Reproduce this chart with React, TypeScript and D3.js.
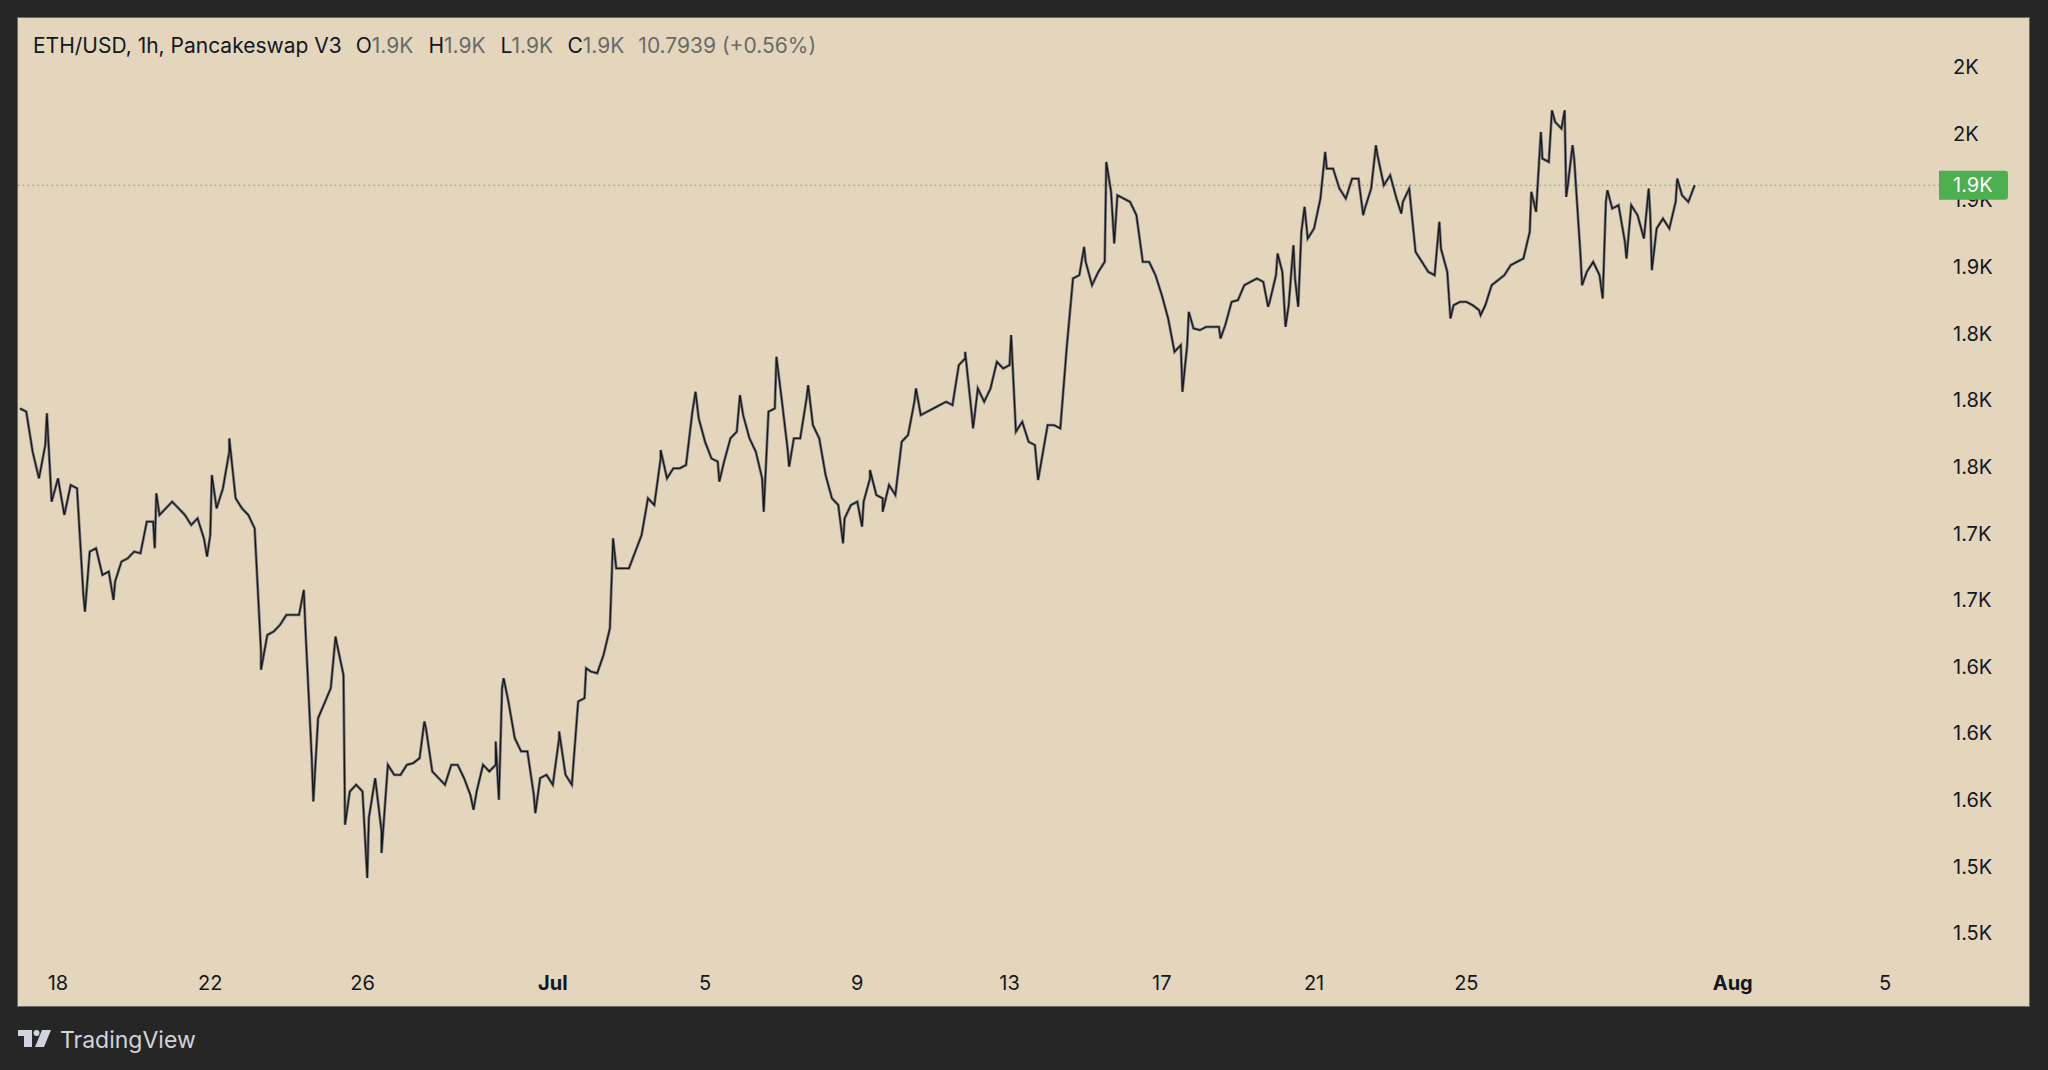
import React from 'react'
import * as d3 from 'd3'

const W = 2048
const H = 1070

// 4-hour closes starting Jun 17 00:00 UTC
const START = Date.UTC(2023, 5, 17, 0)
const STEP = 4 * 3600 * 1000

const closesJun17 = [
  1835, 1833, 1809, 1793, 1813, 1779, 1793, 1771, 1789, 1787,
  1723, 1749, 1751, 1735, 1737, 1731, 1743, 1745, 1749, 1748,
  1767, 1767, 1771, 1775, 1779, 1775, 1771, 1765, 1769, 1757,
  1759, 1775, 1787, 1809, 1781, 1775, 1771, 1763, 1689, 1699,
  1701, 1705, 1711, 1711, 1711, 1703
]
const closesJun24 = [
  1625, 1649, 1658, 1667, 1693, 1675, 1605, 1609, 1605, 1589,
  1613, 1581, 1621, 1615, 1615, 1621, 1622, 1625, 1643, 1617,
  1613, 1609, 1621, 1621, 1613, 1603, 1605, 1621, 1617, 1621,
  1667, 1659, 1637, 1629, 1629, 1603, 1613, 1615, 1609, 1637,
  1615, 1609, 1659, 1661
]
const closesJul2 = [
  1677, 1676, 1687, 1703, 1739, 1739, 1739, 1749, 1759, 1781,
  1777, 1805, 1793, 1799, 1799, 1801, 1833, 1829, 1815, 1805,
  1803, 1803, 1817, 1821, 1831, 1817, 1809, 1793, 1833, 1835,
  1843, 1811, 1817, 1817, 1841, 1825, 1817, 1795, 1781, 1777,
  1769, 1777, 1779, 1779
]
const closesJul9 = [
  1793, 1783, 1781, 1789, 1783, 1815, 1819, 1839, 1831, 1833,
  1835, 1837, 1839, 1837, 1861, 1865, 1833, 1847, 1839, 1847,
  1863, 1859, 1861, 1821, 1827, 1815, 1813, 1803, 1825, 1825,
  1823, 1871, 1913, 1915, 1923, 1909, 1917, 1923, 1965, 1963,
  1961, 1959, 1951, 1923
]
const closesJul16 = [
  1923, 1915, 1903, 1889, 1869, 1873, 1873, 1883, 1882, 1884,
  1884, 1884, 1885, 1899, 1900, 1909, 1911, 1913, 1911, 1899,
  1915, 1917, 1897, 1913, 1941, 1937, 1943, 1961, 1979, 1979,
  1967, 1961, 1973, 1973, 1955, 1967, 1987, 1969, 1975, 1961,
  1959, 1967, 1929, 1923
]
const closesJul23 = [
  1917, 1915, 1931, 1917, 1897, 1899, 1899, 1897, 1894, 1897,
  1909, 1912, 1915, 1921, 1923, 1925, 1941, 1953, 1985, 1983,
  2007, 2003, 1969, 1985, 1927, 1917, 1923, 1915, 1959, 1955,
  1957, 1935, 1957, 1951, 1937, 1951, 1943, 1949, 1943, 1959,
  1963, 1959, 1969
]

const closes = [
  ...closesJun17,
  ...closesJun24,
  ...closesJul2,
  ...closesJul9,
  ...closesJul16,
  ...closesJul23
]

// hourly spikes (wick extremes) that stick out of the 4h closes
const spikesJune: [string, number][] = [
  ['2023-06-17T17', 1832], ['2023-06-18T17', 1713], ['2023-06-19T11', 1720],
  ['2023-06-20T13', 1751], ['2023-06-20T14', 1784], ['2023-06-21T22', 1746],
  ['2023-06-22T01', 1795], ['2023-06-22T12', 1817], ['2023-06-23T08', 1678],
  ['2023-06-24T11', 1726], ['2023-06-24T17', 1599], ['2023-06-25T07', 1698],
  ['2023-06-25T13', 1585], ['2023-06-26T03', 1553], ['2023-06-26T12', 1568],
  ['2023-06-27T15', 1647], ['2023-06-28T22', 1594], ['2023-06-29T12', 1635],
  ['2023-06-29T14', 1600], ['2023-06-29T17', 1673], ['2023-06-30T13', 1592]
]
const spikesJulyA: [string, number][] = [
  ['2023-07-01T04', 1641], ['2023-07-01T21', 1679], ['2023-07-02T14', 1757],
  ['2023-07-03T20', 1810], ['2023-07-04T18', 1845], ['2023-07-05T09', 1791],
  ['2023-07-05T22', 1843], ['2023-07-06T13', 1773], ['2023-07-06T21', 1866],
  ['2023-07-07T05', 1800], ['2023-07-07T17', 1849], ['2023-07-08T15', 1754],
  ['2023-07-09T03', 1764], ['2023-07-09T08', 1798], ['2023-07-09T16', 1773],
  ['2023-07-10T13', 1847], ['2023-07-11T20', 1869], ['2023-07-12T01', 1823],
  ['2023-07-13T01', 1879], ['2023-07-13T18', 1792], ['2023-07-14T23', 1932],
  ['2023-07-15T13', 1983], ['2023-07-15T18', 1934]
]
const spikesJulyB: [string, number][] = [
  ['2023-07-17T13', 1845], ['2023-07-17T17', 1893], ['2023-07-18T13', 1877],
  ['2023-07-19T19', 1896], ['2023-07-20T01', 1928], ['2023-07-20T06', 1884],
  ['2023-07-20T11', 1933], ['2023-07-20T14', 1896], ['2023-07-20T18', 1956],
  ['2023-07-21T07', 1989], ['2023-07-22T07', 1951], ['2023-07-22T15', 1993],
  ['2023-07-23T07', 1952], ['2023-07-24T07', 1947], ['2023-07-24T14', 1889],
  ['2023-07-25T09', 1891], ['2023-07-26T17', 1965], ['2023-07-26T23', 2001],
  ['2023-07-27T06', 2014], ['2023-07-27T14', 2014], ['2023-07-27T15', 1962],
  ['2023-07-27T19', 1993], ['2023-07-28T01', 1909], ['2023-07-28T14', 1901],
  ['2023-07-28T17', 1966], ['2023-07-29T05', 1925], ['2023-07-29T19', 1967],
  ['2023-07-29T21', 1918], ['2023-07-30T13', 1973]
]

const yTickValues = [
  2040, 2000, 1960, 1920, 1880, 1840, 1800, 1760, 1720, 1680, 1640, 1600,
  1560, 1520
]

const xTickDates = [
  '2023-06-18', '2023-06-22', '2023-06-26', '2023-07-01', '2023-07-05',
  '2023-07-09', '2023-07-13', '2023-07-17', '2023-07-21', '2023-07-25',
  '2023-08-01', '2023-08-05'
]

const title = 'ETH/USD, 1h, Pancakeswap V3'
const ohlcLetters = ['O', 'H', 'L', 'C']
const ohlcValues = ['1.9K', '1.9K', '1.9K', '1.9K']
const changeText = '10.7939 (+0.56%)'
const lastLabel = '1.9K'

const FONT = 'Inter, "Noto Sans", sans-serif'
const INK = '#131722'
const MUTED = '#6a6a6a'
const GREEN = '#4caf50'

const fmtK = (v) => {
  const k = Math.floor(v / 100) / 10
  return (Number.isInteger(k) ? k.toFixed(0) : k.toFixed(1)) + 'K'
}

const XAxis = ({ x, y }) => {
  const fmtMonth = d3.utcFormat('%b')
  return (
    <g>
      {xTickDates.map((s) => {
        const d = new Date(s + 'T00:00:00Z')
        const first = d.getUTCDate() === 1
        return (
          <text
            key={s}
            x={x(d)}
            y={y}
            textAnchor="middle"
            fontFamily={FONT}
            fontSize={20}
            fontWeight={first ? 700 : 400}
            fill={INK}
          >
            {first ? fmtMonth(d) : d.getUTCDate()}
          </text>
        )
      })}
    </g>
  )
}

const YAxis = ({ y, left }) => (
  <g>
    {yTickValues.map((v) => (
      <text
        key={v}
        x={left}
        y={y(v)}
        dy="0.36em"
        fontFamily={FONT}
        fontSize={20}
        fill={INK}
      >
        {fmtK(v)}
      </text>
    ))}
  </g>
)

const Logo = () => (
  <g fill="#d1d4dc">
    <rect x={18} y={1030} width={14} height={6} />
    <rect x={24} y={1030} width={8} height={17} />
    <circle cx={36.5} cy={1033} r={3} />
    <polygon points="42,1030 51,1030 44,1047 35,1047" />
    <text x={60} y={1048} fontFamily={FONT} fontSize={23} fill="#d1d4dc">
      TradingView
    </text>
  </g>
)

const App = () => {
  const x = d3
    .scaleUtc()
    .domain([Date.UTC(2023, 5, 18), Date.UTC(2023, 7, 5)])
    .range([58, 1885])
  const y = d3.scaleLinear().domain([1520, 2040]).range([933, 67])

  const points = closes
    .map((v, i) => ({ t: START + i * STEP, v }))
    .concat(
      [...spikesJune, ...spikesJulyA, ...spikesJulyB].map(([s, v]) => ({
        t: Date.parse(s + ':00:00Z'),
        v
      }))
    )
    .sort((a, b) => a.t - b.t)

  const line = d3
    .line<{ t: number; v: number }>()
    .x((d) => x(new Date(d.t)))
    .y((d) => y(d.v))
    .curve(d3.curveLinear)

  const last = closes[closes.length - 1]
  const ly = y(last)

  return (
    <svg
      width={W}
      height={H}
      style={{ position: 'absolute', left: 0, top: 0 }}
    >
      <rect width={W} height={H} fill="#262626" />
      <rect
        x={17.5}
        y={17.5}
        width={2012}
        height={989}
        fill="#e3d6bc"
        stroke="#6e6a62"
      />

      <defs>
        <clipPath id="plot">
          <rect x={18} y={18} width={1920} height={988} />
        </clipPath>
      </defs>

      <line
        x1={18}
        x2={1939}
        y1={ly}
        y2={ly}
        stroke={GREEN}
        strokeWidth={1.2}
        strokeDasharray="1.5 3.3"
      />

      <g clipPath="url(#plot)" fill="none">
        <path d={line(points)} stroke="#74767e" strokeWidth={2.8} />
        <path d={line(points)} stroke="#18181a" strokeWidth={1.3} />
      </g>

      <YAxis y={y} left={1953} />
      <XAxis x={x} y={990} />

      <g>
        <path
          d={`M1939,${ly - 14.5} h66 a3,3 0 0 1 3,3 v23 a3,3 0 0 1 -3,3 h-66 z`}
          fill={GREEN}
        />
        <text
          x={1953}
          y={ly}
          dy="0.36em"
          fontFamily={FONT}
          fontSize={20}
          fill="#ffffff"
        >
          {lastLabel}
        </text>
      </g>

      <text x={33} y={53} fontFamily={FONT} fontSize={21} fill={INK}>
        {title}
        {ohlcLetters.map((l, i) => (
          <React.Fragment key={l}>
            <tspan dx={i === 0 ? 14 : 15}>{l}</tspan>
            <tspan fill={MUTED}>{ohlcValues[i]}</tspan>
          </React.Fragment>
        ))}
        <tspan dx={14} fill={MUTED}>
          {changeText}
        </tspan>
      </text>

      <Logo />
    </svg>
  )
}

export default App
